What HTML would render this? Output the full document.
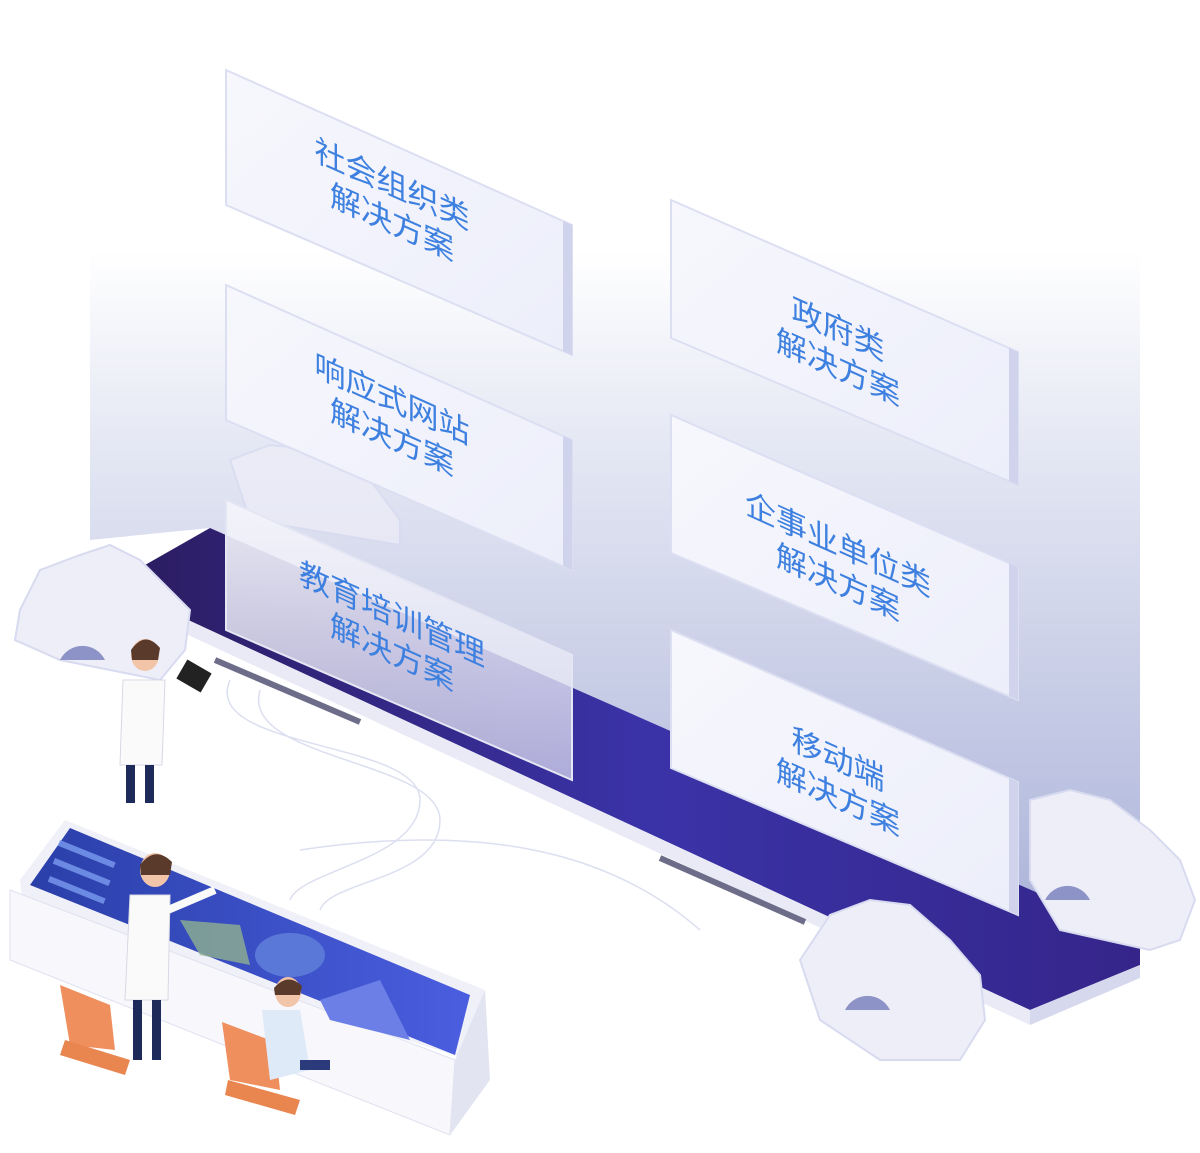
<!DOCTYPE html>
<html><head><meta charset="utf-8"><style>
html,body{margin:0;padding:0;background:#fff;}
svg{display:block;font-family:"Liberation Sans","Noto Sans CJK SC",sans-serif;}
</style></head><body>
<svg width="1200" height="1153" viewBox="0 0 1200 1153" xmlns="http://www.w3.org/2000/svg">
<defs>
<linearGradient id="bg" x1="0" y1="0" x2="0" y2="1">
<stop offset="0" stop-color="#ffffff"/>
<stop offset="0.3" stop-color="#e3e6f3"/>
<stop offset="1" stop-color="#a9b1d8"/>
</linearGradient>
<linearGradient id="plat" x1="0" y1="0" x2="1" y2="0">
<stop offset="0" stop-color="#2c1d63"/>
<stop offset="0.5" stop-color="#3a33a8"/>
<stop offset="1" stop-color="#35258a"/>
</linearGradient>
<linearGradient id="card" x1="0" y1="0" x2="1" y2="1">
<stop offset="0" stop-color="#f7f7fd"/>
<stop offset="1" stop-color="#eceefa"/>
</linearGradient>
<linearGradient id="scr" x1="0" y1="0" x2="1" y2="0">
<stop offset="0" stop-color="#2a3fa8"/>
<stop offset="1" stop-color="#4a5ee0"/>
</linearGradient>
<linearGradient id="glass" x1="0" y1="0" x2="0" y2="1">
<stop offset="0" stop-color="#f4f4fb" stop-opacity="0.95"/>
<stop offset="1" stop-color="#e0e0f2" stop-opacity="0.7"/>
</linearGradient>
</defs>

<polygon points="90,250 1140,250 1140,945 210,528 90,540" fill="url(#bg)"/>

<!-- platform -->
<polygon points="210,528 1140,938 1140,965 1030,1010 145,600 145,565" fill="url(#plat)"/>
<polygon points="145,600 1030,1010 1030,1025 145,615" fill="#e9eaf6"/>
<polygon points="1030,1010 1140,965 1140,978 1030,1025" fill="#d6d8ee"/>
<line x1="215" y1="660" x2="360" y2="722" stroke="#6d6d8a" stroke-width="6"/>
<line x1="660" y1="858" x2="805" y2="922" stroke="#6d6d8a" stroke-width="6"/>

<!-- gears -->
<g fill="#eeeef8" stroke="#d8dbf0" stroke-width="2">
<path d="M20,610 L40,570 L80,555 L110,545 L140,560 L170,590 L190,610 L185,650 L160,680 L60,660 L15,640 Z"/>
<path d="M800,960 L830,915 L870,900 L910,905 L950,940 L980,975 L985,1020 L960,1060 L880,1060 L820,1020 Z"/>
<path d="M1030,800 L1070,790 L1110,800 L1150,830 L1180,860 L1195,900 L1180,940 L1150,950 L1060,930 L1030,880 Z"/>
<path d="M230,460 L270,445 L320,450 L370,480 L400,520 L400,545 L250,520 Z" opacity="0.7"/>
</g>
<path d="M60,660 A25,25 0 0 1 105,660 Z" fill="#8d93c6"/>
<path d="M845,1010 A25,25 0 0 1 890,1010 Z" fill="#8d93c6"/>
<path d="M1045,900 A25,25 0 0 1 1090,900 Z" fill="#8d93c6"/>

<!-- cable lines -->
<g fill="none" stroke="#dcdff0" stroke-width="1.5">
<path d="M230,680 C200,750 420,740 420,800 C420,860 300,870 290,900"/>
<path d="M260,690 C240,760 440,760 440,820 C440,880 330,880 320,910"/>
<path d="M300,850 C500,820 620,860 700,930"/>
</g>

<!-- cards -->
<g font-size="31" fill="#3d80e0" text-anchor="middle">
<g>
<polygon points="226,70 572,225 572,355 226,205" fill="url(#card)" stroke="#dcdff2" stroke-width="2"/>
<polygon points="563,221 572,225 572,355 563,351" fill="#cfd3ec"/>
<text transform="matrix(1,0.45,0,1,392,195)"><tspan x="0" y="0">社会组织类</tspan><tspan x="0" y="38">解决方案</tspan></text>
</g>
<g>
<polygon points="226,285 572,440 572,570 226,420" fill="url(#card)" stroke="#dcdff2" stroke-width="2"/>
<polygon points="563,436 572,440 572,570 563,566" fill="#cfd3ec"/>
<text transform="matrix(1,0.45,0,1,392,410)"><tspan x="0" y="0">响应式网站</tspan><tspan x="0" y="38">解决方案</tspan></text>
</g>
<g>
<polygon points="226,500 572,655 572,780 226,630" fill="url(#glass)" stroke="#e4e6f4" stroke-width="2"/>
<text transform="matrix(1,0.45,0,1,392,625)"><tspan x="0" y="0">教育培训管理</tspan><tspan x="0" y="38">解决方案</tspan></text>
</g>
<g>
<polygon points="671,200 1018,352 1018,485 671,338" fill="url(#card)" stroke="#dcdff2" stroke-width="2"/>
<polygon points="1009,348 1018,352 1018,485 1009,481" fill="#cfd3ec"/>
<text transform="matrix(1,0.45,0,1,838,340)"><tspan x="0" y="0">政府类</tspan><tspan x="0" y="38">解决方案</tspan></text>
</g>
<g>
<polygon points="671,415 1018,567 1018,700 671,553" fill="url(#card)" stroke="#dcdff2" stroke-width="2"/>
<polygon points="1009,563 1018,567 1018,700 1009,696" fill="#cfd3ec"/>
<text transform="matrix(1,0.45,0,1,838,555)"><tspan x="0" y="0">企事业单位类</tspan><tspan x="0" y="38">解决方案</tspan></text>
</g>
<g>
<polygon points="671,630 1018,782 1018,915 671,768" fill="url(#card)" stroke="#dcdff2" stroke-width="2"/>
<polygon points="1009,778 1018,782 1018,915 1009,911" fill="#cfd3ec"/>
<text transform="matrix(1,0.45,0,1,838,770)"><tspan x="0" y="0">移动端</tspan><tspan x="0" y="38">解决方案</tspan></text>
</g>
</g>

<!-- desk -->
<polygon points="20,880 65,820 485,990 470,1060 25,920" fill="#f0f0f8"/>
<polygon points="30,885 70,828 470,995 455,1055" fill="url(#scr)"/>
<polygon points="10,890 455,1060 450,1135 10,960" fill="#f7f7fc" stroke="#e0e2f0"/>
<polygon points="455,1060 485,990 490,1080 450,1135" fill="#e2e4f2"/>
<g fill="#7b9cf0" opacity="0.8">
<rect x="60" y="840" width="60" height="6" transform="rotate(22 60 840)"/>
<rect x="55" y="858" width="60" height="6" transform="rotate(22 55 858)"/>
<rect x="50" y="876" width="60" height="6" transform="rotate(22 50 876)"/>
</g>
<ellipse cx="290" cy="955" rx="35" ry="22" fill="#5a78d8"/>
<polygon points="320,1000 380,980 410,1040 330,1020" fill="#6b7fe6"/>
<polygon points="180,920 240,925 250,965 200,955" fill="#8fb090" opacity="0.8"/>

<!-- people -->
<g>
<ellipse cx="145" cy="655" rx="14" ry="16" fill="#f2c4a8"/>
<path d="M131,650 Q145,630 160,648 L158,660 L132,660 Z" fill="#5a3a2a"/>
<path d="M123,680 L165,680 L162,765 L120,765 Z" fill="#fafafa" stroke="#d8d8e4"/>
<rect x="126" y="765" width="9" height="38" fill="#1d2a5a"/>
<rect x="145" y="765" width="9" height="38" fill="#1d2a5a"/>
<rect x="180" y="665" width="28" height="22" fill="#222" transform="rotate(30 194 676)"/>
</g>
<g>
<ellipse cx="155" cy="870" rx="15" ry="17" fill="#f2c4a8"/>
<path d="M140,865 Q155,845 172,862 L170,875 L141,875 Z" fill="#5a3a2a"/>
<path d="M130,895 L170,895 L168,1000 L125,1000 Z" fill="#fafafa" stroke="#d8d8e4"/>
<rect x="133" y="1000" width="9" height="60" fill="#1d2a5a"/>
<rect x="152" y="1000" width="9" height="60" fill="#1d2a5a"/>
<line x1="168" y1="910" x2="215" y2="890" stroke="#fafafa" stroke-width="8"/>
</g>
<polygon points="60,985 110,1005 115,1050 70,1045" fill="#ef8f5e"/>
<polygon points="65,1040 130,1060 125,1075 60,1055" fill="#e9854f"/>
<polygon points="222,1022 275,1042 280,1090 230,1080" fill="#ef8f5e"/>
<polygon points="228,1080 300,1100 295,1115 225,1095" fill="#e9854f"/>
<ellipse cx="288" cy="992" rx="13" ry="15" fill="#f2c4a8"/>
<path d="M274,988 Q288,972 302,986 L300,995 L275,995 Z" fill="#5a3a2a"/>
<path d="M262,1010 L300,1010 L310,1070 L270,1080 Z" fill="#dfeaf8"/>
<rect x="300" y="1060" width="30" height="10" fill="#2a3a7a"/>
</svg>
</body></html>
